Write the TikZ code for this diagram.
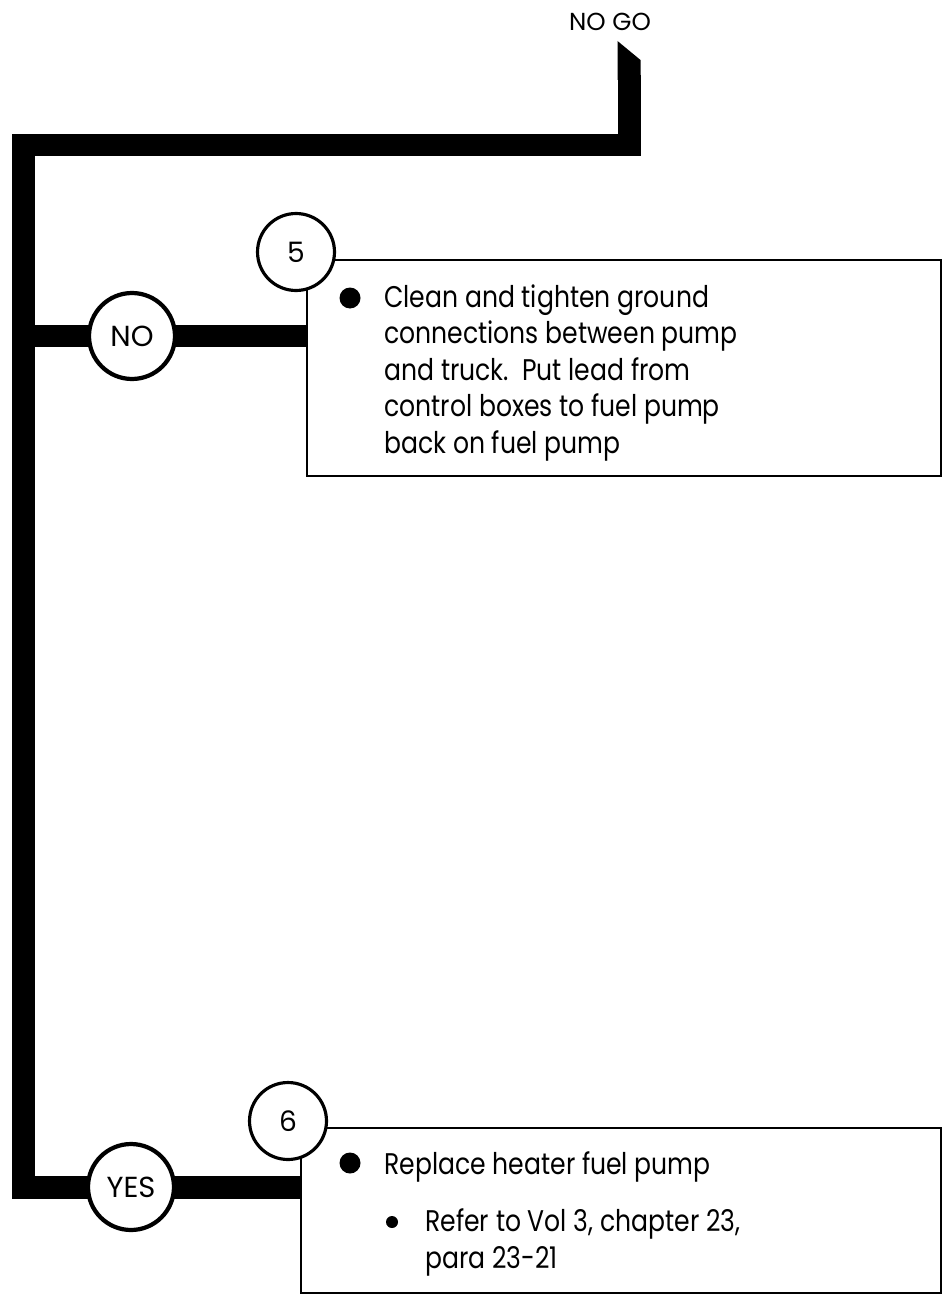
\documentclass[tikz,border=0pt]{standalone}
\usepackage{fontspec}
\setmainfont{Poppins}
\newfontfamily\bodyfont[FakeStretch=0.84]{Poppins}
\usetikzlibrary{positioning}
\tikzset{
  bar/.style={line width=0.46cm, line join=miter, line cap=butt},
  ans/.style={circle, draw, line width=2.4pt, fill=white, minimum size=1.72cm, inner sep=0pt,
              font=\fontsize{16.5}{18}\selectfont},
  num/.style={circle, draw, line width=1.8pt, fill=white, minimum size=1.54cm, inner sep=0pt,
              font=\fontsize{16}{18}\selectfont},
  stepbox/.style={draw, line width=1.3pt, fill=white, anchor=north west, inner sep=0pt},
  txt/.style={anchor=base west, align=left, inner sep=0pt,
              font=\bodyfont\fontsize{17}{20.7}\selectfont},
}
\begin{document}
\begin{tikzpicture}[x=0.02cm, y=-0.02cm]
  \useasboundingbox (0,0) rectangle (945,1294);
  \node[font=\fontsize{14}{18}\selectfont] (nogo) at (610,22) {NO GO};
  \coordinate (tip) at (629,75);
  \node[stepbox, minimum width=12.68cm, minimum height=4.32cm] (box5) at (306,259) {};
  \node[stepbox, minimum width=12.8cm, minimum height=3.3cm] (box6) at (300,1127) {};
  % main line
  \fill (617.5,41) -- (640.5,60) -- (640.5,80) -- (617.5,80) -- cycle;
  \draw[bar] (tip) -- (629,145) -- (23.5,145) -- (23.5,1187) -- (box6.west |- 0,1187);
  \draw[bar] (23.5,336) -- (box5.west |- 0,336);
  \node[ans] (no) at (132,336) {NO};
  \node[ans] (yes) at (131,1187) {YES};
  \node[num] (s5) at (296,252) {5};
  \node[num] (s6) at (288,1121) {6};
  % box texts
  \fill (350,298) circle (10.5);
  \node[txt] (t5) at (384,453) {Clean and tighten ground\\connections between pump\\and truck.\ \ Put lead from\\control boxes to fuel pump\\back on fuel pump};
  \fill (350,1163) circle (10.5);
  \node[txt] (t6) at (384,1174) {Replace heater fuel pump};
  \fill (392,1222) circle (6);
  \node[txt] (t6b) at (425,1268) {Refer to Vol 3, chapter 23,\\para 23-21};
\end{tikzpicture}
\end{document}
